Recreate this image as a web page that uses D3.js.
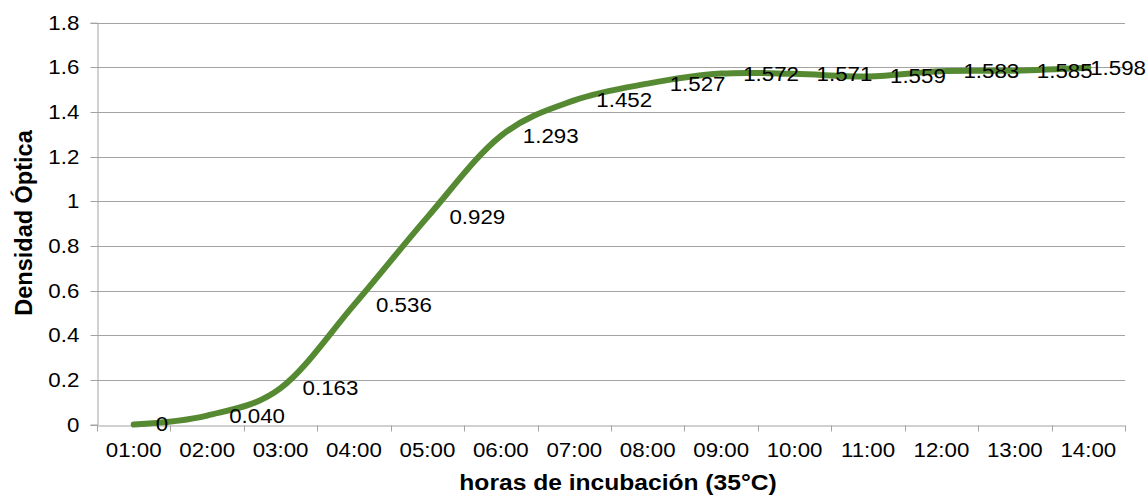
<!DOCTYPE html>
<html>
<head>
<meta charset="utf-8">
<script src="https://cdn.jsdelivr.net/npm/d3@7"></script>
<style>
  html, body { margin: 0; padding: 0; background: #fff; }
  svg { display: block; font-family: "Liberation Sans", Arial, sans-serif; }
</style>
</head>
<body>
<svg id="chart" width="1148" height="496"></svg>
<script>
const categories = ["01:00","02:00","03:00","04:00","05:00","06:00","07:00","08:00","09:00","10:00","11:00","12:00","13:00","14:00"];
const values = [0, 0.040, 0.163, 0.536, 0.929, 1.293, 1.452, 1.527, 1.572, 1.571, 1.559, 1.583, 1.585, 1.598];
const valueLabels = ["0","0.040","0.163","0.536","0.929","1.293","1.452","1.527","1.572","1.571","1.559","1.583","1.585","1.598"];
const yTicks = [0, 0.2, 0.4, 0.6, 0.8, 1, 1.2, 1.4, 1.6, 1.8];
const yTickLabels = ["0","0.2","0.4","0.6","0.8","1","1.2","1.4","1.6","1.8"];
const xTitle = "horas de incubación (35°C)";
const yTitle = "Densidad Óptica";

const W = 1148, H = 496;
const pLeft = 97, pRight = 1125, pTop = 22.7, pBottom = 424.5;
const SX = 1.15;
const FS = "19.4px";
const gridColor = "#a3a3a3";
const lineColor = "#558a33";

const svg = d3.select("#chart");

const x = d3.scaleBand().domain(categories).range([pLeft, pRight]).padding(0);
const y = d3.scaleLinear().domain([0, 1.8]).range([pBottom, pTop]);

// gridlines
svg.append("g").selectAll("line").data(yTicks.slice(1)).join("line")
  .attr("x1", pLeft).attr("x2", pRight)
  .attr("y1", d => Math.round(y(d)) + 0.5).attr("y2", d => Math.round(y(d)) + 0.5)
  .attr("stroke", gridColor).attr("stroke-width", 1);

// y axis
const yAxis = svg.append("g").attr("transform", `translate(${pLeft + 0.5},0)`)
  .call(d3.axisLeft(y).tickValues(yTicks).tickSize(7).tickFormat((d, i) => yTickLabels[i]));
yAxis.select(".domain").attr("stroke", gridColor);
yAxis.selectAll(".tick line").attr("stroke", gridColor);
yAxis.selectAll(".tick text")
  .attr("x", -15.8).attr("dy", "0.36em")
  .attr("transform", `scale(${SX},1)`)
  .style("font-size", FS).attr("fill", "#000");
yAxis.selectAll(".tick").attr("transform", d => `translate(0,${Math.round(y(d)) + 0.5})`);

// x axis
const xAxis = svg.append("g").attr("transform", `translate(0,${Math.round(pBottom) + 0.5})`)
  .call(d3.axisBottom(x).tickSize(0).tickFormat(d => d));
xAxis.select(".domain").attr("stroke", gridColor);
xAxis.selectAll(".tick text")
  .attr("y", 31.5).attr("dy", 0)
  .attr("transform", `scale(${SX},1)`)
  .style("font-size", FS).attr("fill", "#000");
const bounds = categories.map(c => x(c)).concat([pRight]);
xAxis.selectAll("line.bt").data(bounds).join("line").attr("class", "bt")
  .attr("x1", d => Math.round(d) + 0.5).attr("x2", d => Math.round(d) + 0.5)
  .attr("y1", 0).attr("y2", 6).attr("stroke", gridColor);

// data line
const pts = categories.map((c, i) => [x(c) + x.bandwidth() / 2, y(values[i])]);
svg.append("path").datum(pts)
  .attr("d", d3.line().curve(d3.curveCardinal.tension(0)))
  .attr("fill", "none").attr("stroke", lineColor)
  .attr("stroke-width", 6).attr("stroke-linecap", "round").attr("stroke-linejoin", "round");

// data labels
const lab = svg.append("g");
pts.forEach((p, i) => {
  const t = lab.append("text").text(valueLabels[i])
    .style("font-size", FS).attr("fill", "#000").attr("dy", "0.36em");
  const w = t.node().getComputedTextLength() * SX;
  let lx = p[0] + 22;
  if (lx + w > W - 2) lx = W - 2 - w;
  t.attr("transform", `translate(${lx},${p[1]}) scale(${SX},1)`);
});

// titles
svg.append("text").text(xTitle)
  .attr("text-anchor", "middle")
  .attr("transform", `translate(618,490) scale(${SX},1)`)
  .style("font-size", "21.4px").style("font-weight", "bold").attr("fill", "#000");

svg.append("text").text(yTitle)
  .attr("text-anchor", "middle")
  .attr("transform", "translate(31.5,223) rotate(-90)")
  .style("font-size", "23.5px").style("font-weight", "bold").attr("fill", "#000");
</script>
</body>
</html>
